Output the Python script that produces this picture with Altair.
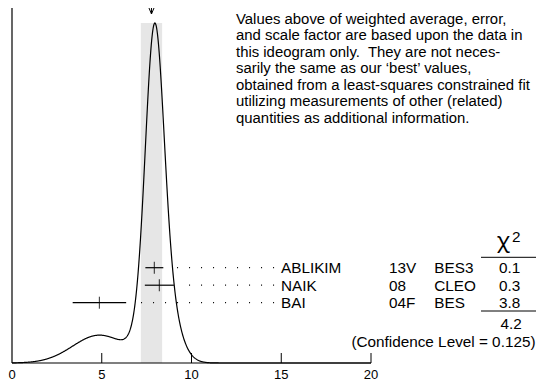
import altair as alt
import numpy as np
import pandas as pd

# ---------------- data ----------------
names = ["ABLIKIM", "NAIK", "BAI"]
years = ["13V", "08", "04F"]
experiments = ["BES3", "CLEO", "BES"]
values = [7.93, 8.21, 4.87]
errors = [0.50, 0.81, 1.49]
chi2_labels = ["0.1", "0.3", "3.8"]
chi2_total = 4.2
conf_label = "(Confidence Level = 0.125)"
x_ticks = [0, 5, 10, 15, 20]
note_lines = [
    "Values above of weighted average, error,",
    "and scale factor are based upon the data in",
    "this ideogram only.\u00a0 They are not neces-",
    "sarily the same as our \u2018best\u2019 values,",
    "obtained from a least-squares constrained fit",
    "utilizing measurements of other (related)",
    "quantities as additional information.",
]

# ---------------- derived quantities ----------------
v = np.array(values)
e = np.array(errors)
w = 1.0 / e**2
mean = float((w * v).sum() / w.sum())
scale_factor = np.sqrt(chi2_total / (len(v) - 1))
mean_err = float(scale_factor / np.sqrt(w.sum()))

xs = np.linspace(0, 20, 1001)
ys = (w[None, :] * np.exp(-0.5 * ((xs[:, None] - v[None, :]) / e[None, :]) ** 2)).sum(axis=1)
ys = ys / ys.max()
curve = pd.DataFrame({"x": xs, "y": ys})

meas = pd.DataFrame({
    "row": list(range(len(names))),
    "name": names, "year": years, "exp": experiments, "chi2": chi2_labels,
    "v": values, "lo": list(v - e), "hi": list(v + e),
})
band = pd.DataFrame({"lo": [mean - mean_err], "hi": [mean + mean_err], "b": [0.0], "t": [1.0]})
ticks = pd.DataFrame({"t": x_ticks[1:]})
ticklabels = pd.DataFrame({"t": x_ticks, "lab": [str(t) for t in x_ticks]})
axisline = pd.DataFrame({"a": [x_ticks[0]], "b": [x_ticks[-1]]})
notes = pd.DataFrame({"line": list(range(len(note_lines))), "text": note_lines})
arrow = pd.DataFrame({"m": [mean]})

# ---------------- layout ----------------
W, H = 528, 374
X0 = 4.0          # canvas px of x = 0
PXU = 17.95       # px per unit
FONT = "Liberation Sans"
FS = 15.3

xscale = alt.Scale(domain=[-X0 / PXU, (W - X0) / PXU], range=[0, W], nice=False, zero=False)
yc = alt.Scale(domain=[0, 1], range=[355, 15], nice=False, zero=False)
yr = alt.Scale(domain=[0, 2], range=[259.7, 294.7], nice=False, zero=False)
yn = alt.Scale(domain=[0, 6], range=[15.5, 114.5], nice=False, zero=False)


def X(f, **kw):
    return alt.X(f, type="quantitative", scale=xscale, axis=None, **kw)


band_l = alt.Chart(band).mark_rect(color="#e6e6e6").encode(
    x=X("lo"), x2="hi",
    y=alt.Y("t:Q", scale=yc, axis=None), y2="b")

curve_l = alt.Chart(curve).mark_line(color="black", strokeWidth=1.2).encode(
    x=X("x"), y=alt.Y("y:Q", scale=yc, axis=None))

xaxis_l = alt.Chart(axisline).mark_rule(color="black", strokeWidth=1.2).encode(
    x=X("a"), x2="b", y=alt.value(355))
yaxis_l = alt.Chart(axisline).mark_rule(color="black", strokeWidth=1.2).encode(
    x=X("a"), y=alt.value(0), y2=alt.value(355))
ticks_l = alt.Chart(ticks).mark_rule(color="black", strokeWidth=1).encode(
    x=X("t"), y=alt.value(345), y2=alt.value(355))
ticklab_l = alt.Chart(ticklabels).mark_text(font=FONT, fontSize=13, color="black", align="center",
                                            baseline="alphabetic").encode(
    x=X("t"), y=alt.value(371), text="lab:N")

arrow_shaft = alt.Chart(arrow).mark_rule(color="black", strokeWidth=1).encode(
    x=X("m"), y=alt.value(0), y2=alt.value(6))
arrow_l = alt.Chart(arrow).transform_calculate(a=f"datum.m - {2.5 / PXU}").mark_rule(
    color="black", strokeWidth=1).encode(x=X("a"), x2="m", y=alt.value(0), y2=alt.value(6))
arrow_r = alt.Chart(arrow).transform_calculate(a=f"datum.m + {2.5 / PXU}").mark_rule(
    color="black", strokeWidth=1).encode(x=X("a"), x2="m", y=alt.value(0), y2=alt.value(6))

mb = alt.Chart(meas)
err_l = mb.mark_rule(color="black", strokeWidth=1.2).encode(
    x=X("lo"), x2="hi", y=alt.Y("row:Q", scale=yr, axis=None))
cen_l = mb.mark_tick(color="black", thickness=1.2, size=12, orient="vertical").encode(
    x=X("v"), y=alt.Y("row:Q", scale=yr, axis=None))
dots_l = mb.transform_calculate(s="14.6", e2="datum.hi + 0.75").mark_rule(
    color="black", strokeWidth=1.2, strokeDash=[1, 11]).encode(
    x=X("s"), x2="e2", y=alt.Y("row:Q", scale=yr, axis=None))


def rowtext(field, x, align="left"):
    return mb.mark_text(font=FONT, fontSize=FS, color="black", align=align,
                        baseline="alphabetic", dy=5.4).encode(
        x=alt.value(x), y=alt.Y("row:Q", scale=yr, axis=None), text=f"{field}:N")


name_t = rowtext("name", 273)
year_t = rowtext("year", 381)
exp_t = rowtext("exp", 426.3)
chi_t = rowtext("chi2", 501.5, "center")

tot = pd.DataFrame({"tot": [f"{chi2_total:.1f}"], "conf": [conf_label], "chi": ["\u03c7"], "sq": ["2"]})
tb = alt.Chart(tot)
tot_t = tb.mark_text(font=FONT, fontSize=FS, color="black", align="center", baseline="alphabetic").encode(
    x=alt.value(503), y=alt.value(320.7), text="tot:N")
conf_t = tb.mark_text(font=FONT, fontSize=FS, color="black", align="right", baseline="alphabetic").encode(
    x=alt.value(527.5), y=alt.value(338.9), text="conf:N")
chi_h = tb.mark_text(font="Noto Sans", fontSize=22, color="black", align="center", baseline="alphabetic").encode(
    x=alt.value(495.3), y=alt.value(239.5), text="chi:N")
sq_h = tb.mark_text(font=FONT, fontSize=FS, color="black", align="left", baseline="alphabetic").encode(
    x=alt.value(504), y=alt.value(233.7), text="sq:N")
line1 = tb.mark_rule(color="black", strokeWidth=1).encode(
    x=alt.value(473), x2=alt.value(528), y=alt.value(249.3))
line2 = tb.mark_rule(color="black", strokeWidth=1).encode(
    x=alt.value(473), x2=alt.value(528), y=alt.value(303))

notes_t = alt.Chart(notes).mark_text(font=FONT, fontSize=14.9, color="black", align="left",
                                     baseline="alphabetic").encode(
    x=alt.value(228), y=alt.Y("line:Q", scale=yn, axis=None), text="text:N")

chart = alt.layer(
    band_l, curve_l, xaxis_l, yaxis_l, ticks_l, ticklab_l, arrow_shaft, arrow_l, arrow_r,
    err_l, cen_l, dots_l, name_t, year_t, exp_t, chi_t,
    tot_t, conf_t, chi_h, sq_h, line1, line2, notes_t,
).resolve_scale(y="independent").properties(
    width=W, height=H, padding=0, autosize=alt.AutoSizeParams(type="none"),
    background="white",
).configure_view(stroke=None)

chart.save("out.html", embed_options={"renderer": "svg", "actions": False})
